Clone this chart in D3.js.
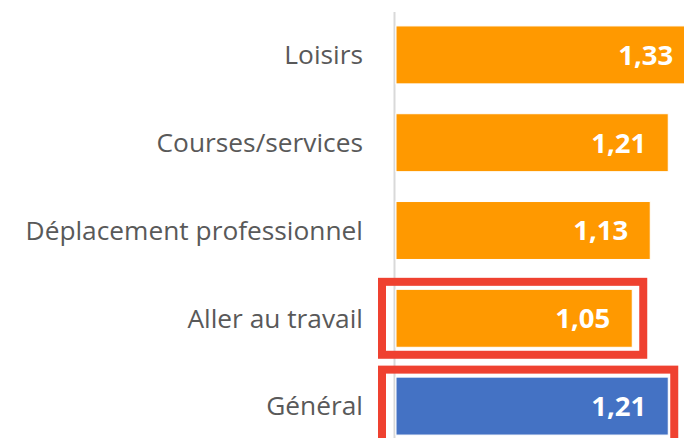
<!DOCTYPE html>
<html>
<head>
<meta charset="utf-8">
<script src="https://cdn.jsdelivr.net/npm/d3@7"></script>
<style>
  html, body { margin: 0; padding: 0; background: #fff; }
  svg { display: block; }
</style>
</head>
<body>
<script>
const categories = ["Loisirs", "Courses/services", "Déplacement professionnel", "Aller au travail", "Général"];
const values = [1.33, 1.21, 1.13, 1.05, 1.21];
const highlighted = ["Aller au travail", "Général"];

const width = 684, height = 438;

const svg = d3.select("body").append("svg")
  .attr("width", width)
  .attr("height", height);

const x = d3.scaleLinear()
  .domain([0, 1.4])
  .range([396, 711]);

const y = d3.scaleBand()
  .domain(categories)
  .range([11, 450])
  .paddingInner(0.34)
  .paddingOuter(0.17);

const fmt = v => d3.format(".2f")(v).replace(".", ",");

// axis line
svg.append("line")
  .attr("x1", 394.5).attr("x2", 394.5)
  .attr("y1", 12).attr("y2", height)
  .attr("stroke", "#d9d9d9")
  .attr("stroke-width", 2);

const data = categories.map((c, i) => ({cat: c, value: values[i]}));

svg.append("g")
  .selectAll("rect")
  .data(data)
  .enter().append("rect")
  .attr("x", x(0))
  .attr("y", d => y(d.cat))
  .attr("width", d => x(d.value) - x(0))
  .attr("height", y.bandwidth())
  .attr("fill", d => d.cat === "Général" ? "#4472c4" : "#ff9900")
  .attr("stroke", "#ffffff")
  .attr("stroke-width", 1);

// category labels
svg.append("g")
  .selectAll("text")
  .data(data)
  .enter().append("text")
  .attr("x", 363)
  .attr("y", d => y(d.cat) + y.bandwidth() / 2)
  .attr("dy", "0.35em")
  .attr("text-anchor", "end")
  .attr("font-family", "'Open Sans', sans-serif")
  .attr("font-size", 26.3)
  .attr("fill", "#595959")
  .text(d => d.cat);

// value labels
svg.append("g")
  .selectAll("text")
  .data(data)
  .enter().append("text")
  .attr("x", d => x(d.value) - 22)
  .attr("y", d => y(d.cat) + y.bandwidth() / 2)
  .attr("dy", "0.36em")
  .attr("text-anchor", "end")
  .attr("font-family", "'Open Sans', sans-serif")
  .attr("font-weight", "bold")
  .attr("font-size", 27.5)
  .attr("fill", "#ffffff")
  .text(d => fmt(d.value));

// red highlight boxes
svg.append("g")
  .selectAll("rect")
  .data(data.filter(d => highlighted.includes(d.cat)))
  .enter().append("rect")
  .attr("x", x(0) - 14)
  .attr("y", d => y(d.cat) - 7.5)
  .attr("width", d => x(d.value) - x(0) + 14 + (d.cat === "Général" ? 6 : 11))
  .attr("height", y.bandwidth() + 15)
  .attr("fill", "none")
  .attr("stroke", "#ef4130")
  .attr("stroke-width", 8);
</script>
</body>
</html>
